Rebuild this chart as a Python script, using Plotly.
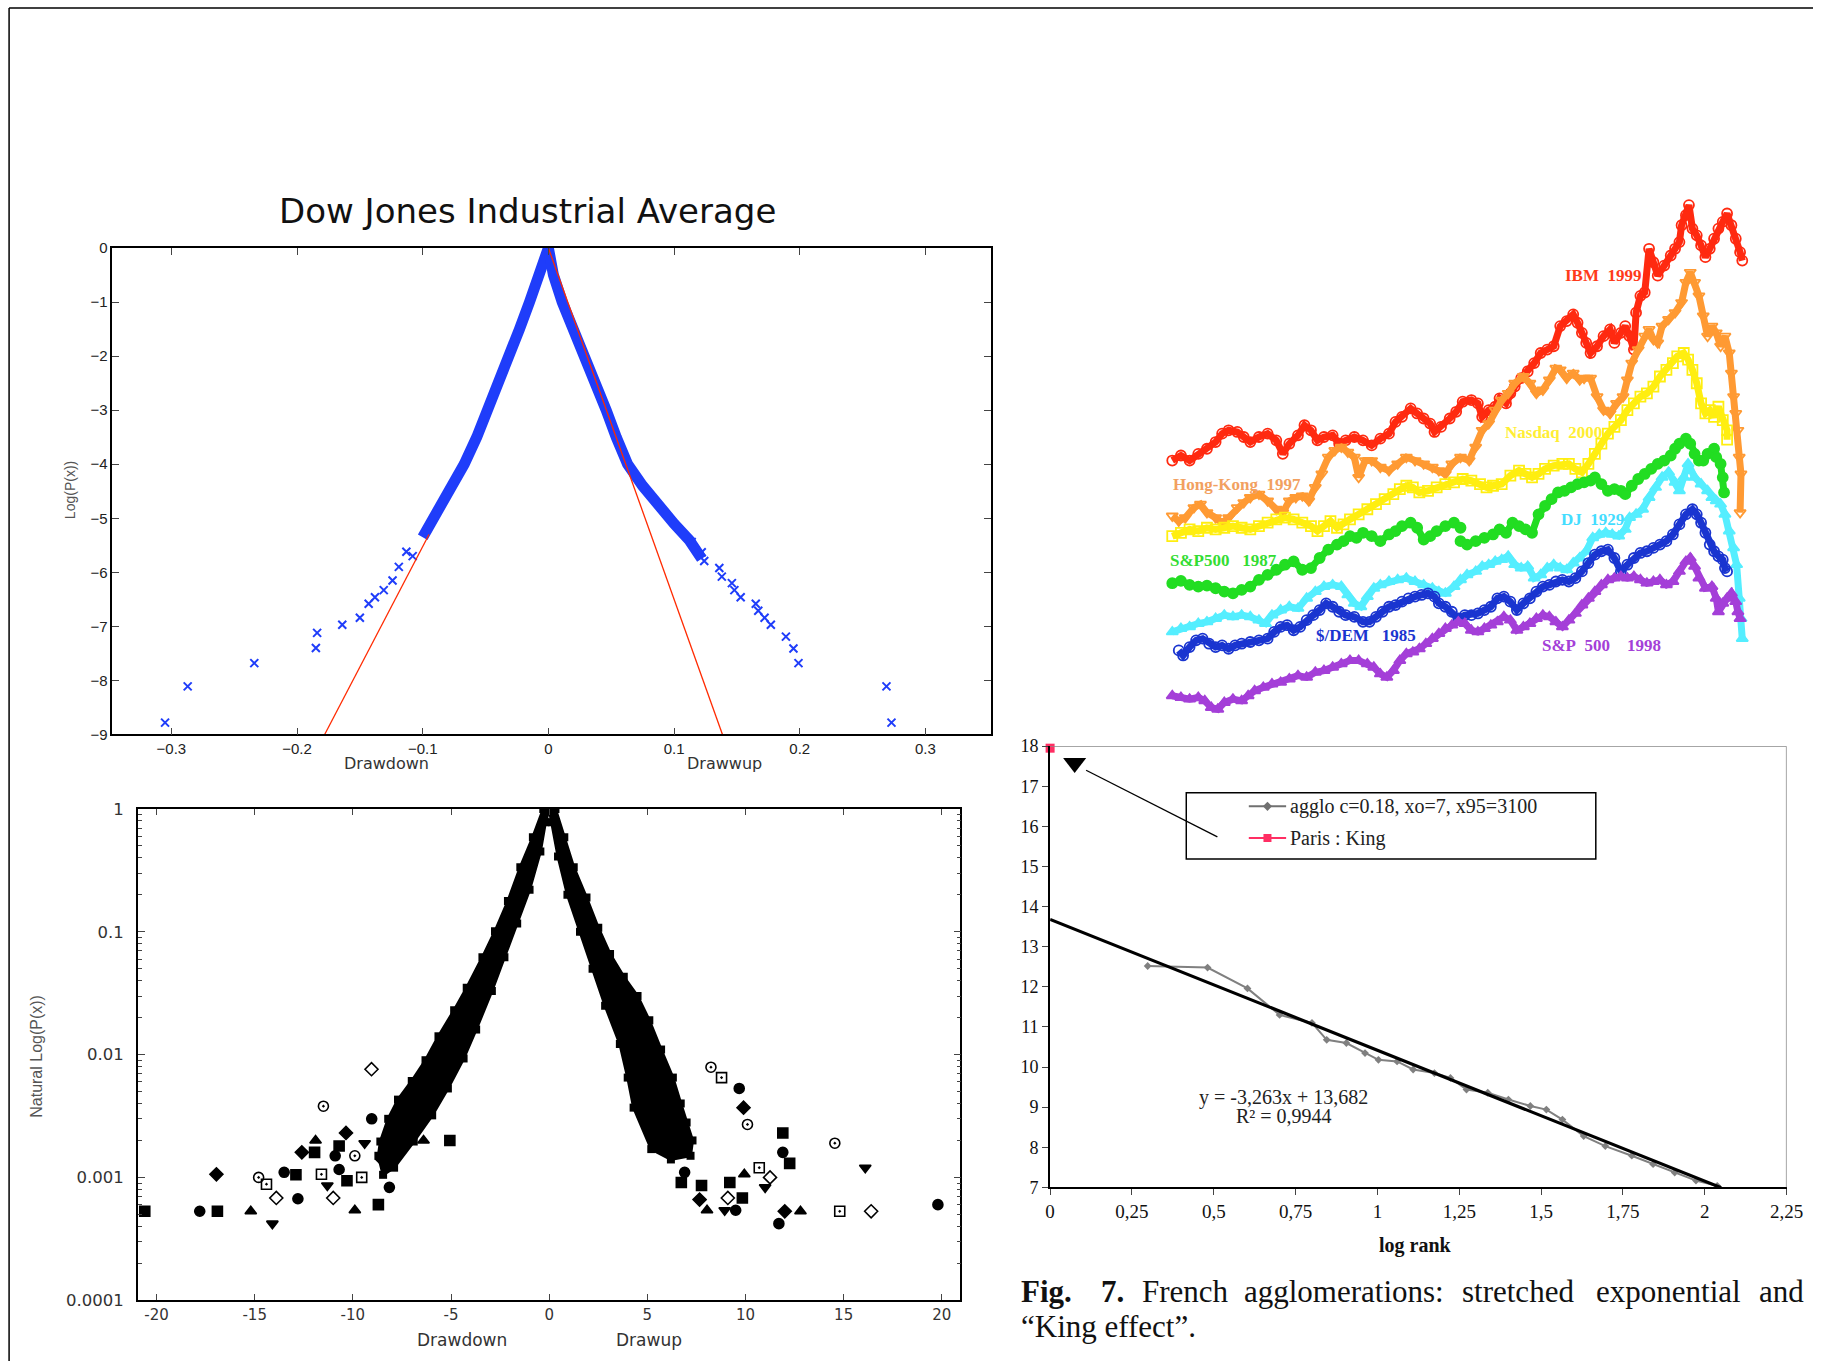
import plotly.graph_objects as go

W, H = 1830, 1371

# ---------------- Panel 1: Dow Jones Industrial Average ----------------
dj_left_x = [0, -0.004, -0.009, -0.015, -0.023, -0.031, -0.040, -0.048, -0.057, -0.067, -0.079, -0.091, -0.100]
dj_left_y = [0, -0.3, -0.6, -1.0, -1.5, -2.0, -2.5, -3.0, -3.5, -4.0, -4.5, -5.0, -5.35]
dj_right_x = [0, 0.004, 0.011, 0.020, 0.030, 0.038, 0.046, 0.054, 0.063, 0.075, 0.088, 0.100, 0.112, 0.122]
dj_right_y = [0, -0.5, -1.0, -1.5, -2.0, -2.5, -3.0, -3.5, -4.0, -4.4, -4.8, -5.1, -5.4, -5.75]
dj_tail_x = [-0.108, -0.113, -0.119, -0.124, -0.131, -0.138, -0.143, -0.150, -0.164, -0.184, -0.185, -0.234, -0.287, -0.305,
             0.114, 0.122, 0.124, 0.136, 0.138, 0.146, 0.148, 0.153, 0.165, 0.167, 0.172, 0.177, 0.189, 0.195, 0.199, 0.269, 0.273]
dj_tail_y = [-5.70, -5.62, -5.90, -6.15, -6.33, -6.46, -6.58, -6.84, -6.97, -7.12, -7.40, -7.68, -8.11, -8.78,
             -5.44, -5.63, -5.79, -5.92, -6.08, -6.20, -6.33, -6.46, -6.58, -6.71, -6.84, -6.97, -7.19, -7.41, -7.68, -8.11, -8.78]
dj_fit_left_x = [-0.095, -0.178]
dj_fit_left_y = [-5.30, -9.0]
dj_fit_right_x = [0.0, 0.1385]
dj_fit_right_y = [0.0, -9.0]
p1_xticks = [-0.3, -0.2, -0.1, 0, 0.1, 0.2, 0.3]
p1_xlabels = ["\u22120.3", "\u22120.2", "\u22120.1", "0", "0.1", "0.2", "0.3"]
p1_yticks = [0, -1, -2, -3, -4, -5, -6, -7, -8, -9]
p1_ylabels = ["0", "\u22121", "\u22122", "\u22123", "\u22124", "\u22125", "\u22126", "\u22127", "\u22128", "\u22129"]

# ---------------- Panel 2: normalised drawdowns (log scale) ----------------
band_left_x = [-0.3, -0.83, -1.47, -2.1, -2.76, -3.4, -4.2, -4.84, -5.64, -6.3, -7.0, -7.7, -8.2, -8.6, -8.7, -8.46,
               -7.9, -6.9, -5.96, -5.16, -4.36, -3.72, -2.92, -2.28, -1.63, -1.0, -0.45, -0.19, 0.0]
band_left_y = [1, 0.59, 0.336, 0.178, 0.101, 0.062, 0.035, 0.023, 0.0141, 0.0090, 0.0061, 0.0043, 0.0030, 0.00196, 0.0015, 0.00105,
               0.0012, 0.00196, 0.0032, 0.0053, 0.0093, 0.016, 0.033, 0.062, 0.117, 0.22, 0.45, 0.78, 1]
band_right_x = [0.32, 0.77, 1.25, 1.9, 2.5, 3.1, 3.8, 4.5, 5.1, 5.7, 6.3, 6.7, 7.0, 7.3, 7.2,
                6.2, 5.2, 4.3, 4.0, 3.6, 2.85, 2.21, 1.57, 0.93, 0.45, 0.13, 0.0]
band_right_y = [1, 0.59, 0.336, 0.19, 0.108, 0.066, 0.043, 0.030, 0.0190, 0.0110, 0.0065, 0.0040, 0.0028, 0.0020, 0.0015,
                0.0014, 0.0017, 0.0037, 0.0065, 0.0122, 0.025, 0.05, 0.10, 0.2, 0.41, 0.78, 1]
p2_left_x = [-20.6, -17.8, -16.95, -16.9, -15.2, -14.8, -14.4, -14.1, -13.9, -13.5, -12.9, -12.8, -12.6, -11.95, -11.9,
             -11.5, -11.6, -11.3, -11.0, -10.9, -10.7, -10.7, -10.35, -10.3, -9.9, -9.9, -9.55, -9.4, -9.05, -9.04,
             -8.7, -8.14, -8.5, -5.06, -6.4]
p2_left_y = [0.00053, 0.00053, 0.00106, 0.00053, 0.00053, 0.0010, 0.00088, 0.00042, 0.00068, 0.0011, 0.00105, 0.00067,
             0.0016, 0.0016, 0.0020, 0.0038, 0.00106, 0.00086, 0.00068, 0.0015, 0.0018, 0.00116, 0.0023, 0.00094,
             0.00054, 0.0015, 0.0010, 0.0019, 0.0076, 0.0030, 0.0006, 0.00083, 0.0014, 0.0020, 0.0020]
p2_right_x = [6.73, 6.9, 7.66, 7.76, 8.04, 8.24, 8.78, 8.94, 9.1, 9.5, 9.2, 9.68, 9.9, 9.84, 9.94, 10.1, 10.7, 11.0,
              11.25, 11.7, 11.9, 11.9, 12.0, 12.25, 12.8, 14.55, 14.8, 16.1, 16.4, 19.8]
p2_right_y = [0.00091, 0.0011, 0.00066, 0.00086, 0.00054, 0.0079, 0.0065, 0.00054, 0.00068, 0.00054, 0.00091, 0.0053,
              0.0037, 0.00068, 0.00106, 0.0027, 0.0012, 0.00083, 0.0010, 0.00042, 0.0023, 0.0016, 0.00053, 0.0013,
              0.00053, 0.0019, 0.00053, 0.0012, 0.00053, 0.0006]
p2_xticks = [-20, -15, -10, -5, 0, 5, 10, 15, 20]
p2_xlabels = ["-20", "-15", "-10", "-5", "0", "5", "10", "15", "20"]
p2_yticks = [0.0001, 0.001, 0.01, 0.1, 1]
p2_ylabels = ["0.0001", "0.001", "0.01", "0.1", "1"]

# ---------------- Panel 3: bubbles (relative units) ----------------
ibm = [(50,790),(70,775),(90,790),(110,770),(130,755),(150,735),(165,710),(180,700),(200,705),(215,720),(230,735),(250,720),
       (270,710),(290,730),(305,770),(320,740),(340,715),(355,685),(370,700),(385,730),(400,720),(420,715),(435,740),(450,730),
       (470,720),(490,730),(510,745),(530,725),(550,710),(565,675),(580,660),(600,635),(615,650),(630,665),(645,680),(655,705),
       (670,690),(690,665),(705,645),(720,615),(740,610),(755,620),(765,660),(780,640),(795,630),(805,605),(820,620),(830,590),
       (840,570),(855,545),(870,525),(885,500),(900,470),(915,460),(930,450),(945,390),(960,375),(975,355),(985,380),(995,410),
       (1005,440),(1015,470),(1030,450),(1045,420),(1060,400),(1070,440),(1085,410),(1095,390),(1105,420),(1115,460),(1120,350),
       (1130,300),(1140,290),(1150,160),(1160,200),(1170,240),(1185,210),(1200,180),(1210,160),(1220,140),(1225,90),(1235,60),
       (1242,30),(1250,100),(1260,120),(1270,150),(1280,185),(1290,160),(1300,130),(1310,100),(1320,80),(1330,55),(1340,90),
       (1350,130),(1360,170),(1365,195)]
hongkong = [(50,955),(65,970),(80,960),(100,930),(115,920),(130,945),(150,960),(165,975),(180,960),(200,930),(215,915),(230,900),
            (250,890),(270,910),(290,935),(305,945),(320,910),(335,900),(350,895),(365,910),(380,870),(395,830),(410,780),(425,760),
            (440,750),(455,765),(470,780),(480,840),(495,790),(510,790),(530,810),(550,820),(570,800),(590,780),(610,790),(630,800),
            (650,810),(665,820),(680,830),(695,800),(715,780),(735,790),(750,750),(765,700),(780,680),(795,640),(810,610),(825,590),
            (840,560),(860,540),(875,560),(890,590),(905,580),(920,550),(935,515),(945,520),(960,545),(975,530),(990,550),(1000,545),
            (1015,545),(1030,600),(1045,640),(1060,650),(1075,620),(1090,600),(1100,550),(1110,500),(1125,460),(1140,420),(1150,400),
            (1160,430),(1170,440),(1180,390),(1195,370),(1210,350),(1225,320),(1235,260),(1245,230),(1255,260),(1265,300),(1275,360),
            (1285,420),(1295,390),(1305,410),(1315,450),(1325,420),(1335,470),(1340,530),(1345,600),(1350,650),(1355,700),(1358,780),
            (1362,830),(1360,945)]
nasdaq = [(50,1015),(70,1005),(90,995),(110,1000),(130,990),(150,995),(170,990),(190,985),(210,990),(230,995),(250,985),(270,975),
          (290,965),(310,960),(330,965),(350,975),(370,985),(385,1000),(400,985),(415,970),(430,990),(445,980),(460,965),(480,950),
          (500,935),(520,920),(540,905),(560,890),(575,875),(590,865),(605,870),(620,885),(640,880),(660,870),(680,860),(700,855),
          (720,845),(740,850),(760,860),(775,870),(790,865),(810,860),(830,835),(850,820),(865,830),(880,840),(895,830),(910,815),
          (930,805),(950,800),(965,800),(980,815),(995,825),(1010,800),(1025,770),(1040,740),(1055,710),(1070,690),(1085,670),
          (1100,640),(1115,620),(1130,600),(1145,590),(1160,570),(1175,540),(1190,520),(1205,500),(1215,480),(1230,470),(1240,490),
          (1250,520),(1260,560),(1270,620),(1280,650),(1290,640),(1300,660),(1310,630),(1320,670),(1330,700),(1330,728)]
sp1987 = [(50,1155),(70,1148),(90,1160),(110,1165),(130,1162),(150,1170),(170,1180),(190,1185),(210,1175),(230,1165),(250,1145),
          (270,1130),(290,1115),(310,1100),(330,1090),(350,1115),(370,1110),(390,1080),(410,1055),(430,1040),(445,1030),(460,1015),
          (475,1020),(490,1005),(510,1015),(530,1030),(550,1010),(565,1000),(580,985),(600,975),(615,990),(630,1025),(645,1015),
          (660,1000),(680,985),(700,975),(715,990),(None,None),(715,1030),(730,1040),(750,1030),(770,1020),(790,1010),(805,995),
          (820,1005),(835,975),(850,985),(865,995),(880,1005),(895,950),(910,925),(925,905),(940,885),(955,880),(970,870),(985,860),
          (1000,855),(1015,850),(1025,840),(1040,860),(1055,880),(1070,875),(1085,880),(1095,890),(1110,865),(1125,845),(1140,830),
          (1155,815),(1170,800),(1185,790),(1200,775),(1210,755),(1220,740),(1235,725),(1245,740),(1255,770),(1265,790),(1275,790),
          (1285,770),(1300,755),(1305,780),(1315,800),(1320,840),(1323,885)]
dj1929 = [(50,1300),(70,1290),(90,1285),(110,1275),(130,1270),(150,1260),(170,1250),(190,1255),(210,1250),(230,1255),(250,1265),
          (265,1275),(280,1250),(300,1235),(320,1225),(340,1230),(360,1200),(380,1180),(400,1165),(420,1160),(440,1165),(455,1190),
          (470,1215),(485,1225),(500,1195),(515,1170),(530,1160),(550,1150),(570,1145),(590,1140),(610,1150),(630,1160),(650,1170),
          (665,1180),(680,1185),(700,1165),(715,1145),(730,1130),(750,1120),(765,1105),(780,1100),(795,1090),(810,1085),(825,1075),
          (840,1100),(855,1110),(870,1105),(885,1140),(900,1130),(915,1110),(930,1100),(945,1110),(960,1115),(975,1095),(990,1080),
          (1005,1060),(1020,1020),(1035,1010),(1050,1005),(1065,1010),(1080,1015),(1095,995),(1105,960),(1120,950),(1135,935),
          (1150,900),(1165,870),(1180,840),(1195,825),(1210,855),(1220,880),(1230,840),(1240,800),(1255,840),(1270,860),(1285,880),
          (1295,900),(1305,910),(1315,920),(1325,950),(1335,1000),(1345,1050),(1352,1100),(1358,1200),(1362,1260),(1365,1320)]
usd_dem = [(65,1355),(75,1370),(90,1345),(105,1325),(120,1320),(135,1335),(150,1345),(165,1340),(180,1350),(195,1340),(210,1335),
           (230,1330),(250,1325),(270,1320),(285,1300),(300,1285),(315,1280),(330,1295),(345,1285),(360,1265),(375,1250),(390,1235),
           (405,1215),(420,1225),(435,1240),(450,1250),(470,1255),(490,1270),(505,1270),(520,1255),(535,1240),(550,1225),(565,1220),
           (580,1210),(595,1200),(610,1195),(625,1190),(640,1185),(655,1195),(665,1215),(680,1225),(695,1240),(710,1260),(725,1250),
           (740,1250),(755,1245),(770,1235),(785,1225),(800,1200),(815,1195),(830,1210),(845,1235),(860,1215),(875,1200),(890,1180),
           (905,1165),(920,1160),(935,1150),(950,1145),(965,1150),(980,1140),(995,1120),(1010,1095),(1025,1070),(1040,1060),
           (1055,1055),(1070,1080),(1085,1120),(1100,1100),(1115,1080),(1130,1065),(1145,1060),(1160,1050),(1175,1040),(1190,1030),
           (1205,1010),(1220,980),(1235,950),(1250,935),(1260,950),(1270,975),(1280,1005),(1290,1040),(1300,1060),(1310,1075),
           (1320,1085),(1325,1110),(1330,1120)]
sp1998 = [(50,1490),(70,1495),(90,1500),(110,1495),(125,1505),(140,1525),(155,1530),(170,1510),(190,1500),(210,1505),(225,1490),
          (240,1475),(260,1465),(280,1455),(300,1450),(320,1440),(340,1430),(360,1435),(380,1420),(400,1415),(420,1405),(440,1395),
          (460,1385),(480,1385),(500,1395),(515,1405),(530,1425),(545,1435),(560,1415),(575,1385),(590,1365),(605,1360),(620,1350),
          (635,1335),(650,1320),(665,1305),(680,1290),(695,1280),(710,1270),(725,1275),(740,1295),(755,1300),(770,1290),(785,1280),
          (800,1270),(815,1255),(830,1265),(845,1295),(860,1285),(875,1275),(890,1260),(905,1250),(920,1255),(935,1270),(950,1285),
          (965,1265),(980,1245),(995,1220),(1010,1200),(1025,1180),(1040,1160),(1055,1145),(1070,1140),(1085,1135),(1100,1140),
          (1115,1135),(1130,1145),(1145,1155),(1160,1150),(1175,1145),(1190,1160),(1205,1150),(1220,1120),(1235,1090),(1245,1080),
          (1255,1105),(1265,1140),(1280,1170),(1295,1165),(1305,1200),(1310,1240),(1320,1215),(1330,1200),(1340,1185),(1350,1210),
          (1355,1240),(1360,1260)]
bubble_names = ["IBM\u00a0\u00a01999", "Hong-Kong\u00a0\u00a01997", "Nasdaq\u00a0\u00a02000", "S&P500\u00a0\u00a0\u00a01987",
                "DJ\u00a0\u00a01929", "$/DEM\u00a0\u00a0\u00a01985", "S&P\u00a0\u00a0500\u00a0\u00a0\u00a0\u00a01998"]
bubble_label_x = [1045, 200, 930, 168, 1020, 497, 1040]
bubble_label_y = [240, 862, 708, 1088, 965, 1312, 1340]

# ---------------- Panel 4: French agglomerations ----------------
agglo_x = [0.298, 0.481, 0.603, 0.701, 0.80, 0.845, 0.905, 0.962, 1.003, 1.06, 1.109, 1.174, 1.223, 1.272, 1.337, 1.40,
           1.467, 1.516, 1.565, 1.63, 1.696, 1.777, 1.842, 1.908, 1.973, 2.038]
agglo_y = [12.52, 12.48, 11.96, 11.30, 11.10, 10.68, 10.60, 10.35, 10.18, 10.14, 9.94, 9.85, 9.73, 9.44, 9.36, 9.19,
           9.03, 8.94, 8.69, 8.28, 8.03, 7.79, 7.58, 7.37, 7.17, 7.04]
paris_x = [0.0]
paris_y = [17.95]
fit_slope, fit_intercept = -3.263, 13.682
fit_x = [0.0, 2.05]
p4_xticks = [0, 0.25, 0.5, 0.75, 1, 1.25, 1.5, 1.75, 2, 2.25]
p4_xlabels = ["0", "0,25", "0,5", "0,75", "1", "1,25", "1,5", "1,75", "2", "2,25"]
p4_yticks = list(range(7, 19))

# ======================================================================
# pixel -> paper helpers (with a small correction for the capture scale)
SX, OX = 0.991, 0.9
SY, OY = 0.988, 6.5

def px(x):
    return ((x - OX) / SX) / W

def py(y):
    return 1 - ((y - OY) / SY) / H

BLUE = "#1f3dfa"
fig = go.Figure()

# Panel 1
for lx, ly in ((dj_left_x, dj_left_y), (dj_right_x, dj_right_y)):
    fig.add_trace(go.Scatter(x=lx, y=ly, mode="lines", line=dict(color=BLUE, width=11),
                             xaxis="x", yaxis="y"))
fig.add_trace(go.Scatter(x=dj_tail_x, y=dj_tail_y, mode="markers",
                         marker=dict(symbol="x-thin", size=8, line=dict(color=BLUE, width=2)),
                         xaxis="x", yaxis="y"))
fig.add_trace(go.Scatter(x=dj_fit_left_x, y=dj_fit_left_y, mode="lines", line=dict(color="#ff2a00", width=1.3),
                         xaxis="x", yaxis="y"))
fig.add_trace(go.Scatter(x=dj_fit_right_x, y=dj_fit_right_y, mode="lines", line=dict(color="#ff2a00", width=1.3),
                         xaxis="x", yaxis="y"))

# Panel 2
for bx, by in ((band_left_x, band_left_y), (band_right_x, band_right_y)):
    fig.add_trace(go.Scatter(x=bx, y=by, mode="lines+markers", fill="toself", fillcolor="black",
                             line=dict(color="black", width=3),
                             marker=dict(symbol="square", size=8, color="black"),
                             xaxis="x2", yaxis="y2"))
syms = ["square-dot", "circle", "diamond", "square", "triangle-up", "circle-open-dot", "square-open-dot",
        "triangle-down", "diamond-open", "circle-dot"]
for ox, oy in ((p2_left_x, p2_left_y), (p2_right_x, p2_right_y)):
    fig.add_trace(go.Scatter(x=ox, y=oy, mode="markers",
                             marker=dict(symbol=[syms[i % len(syms)] for i in range(len(ox))], size=10,
                                         color="black", line=dict(color="black", width=1.6)),
                             cliponaxis=False, xaxis="x2", yaxis="y2"))

# Panel 3
bubble_series = [ibm, hongkong, nasdaq, sp1987, dj1929, usd_dem, sp1998]
bubble_colors = ["#ff2a10", "#ff9a33", "#ffee10", "#22dd22", "#55eeff", "#1a35d0", "#a43fd8"]
label_colors = ["#ff3a1a", "#f2a060", "#ffee33", "#33dd33", "#44ddff", "#1a35d0", "#a43fd8"]
bubble_symbols = ["circle-open", "triangle-down-open", "square-open", "circle", "triangle-up", "circle-open", "triangle-up"]
for series, col, sym in zip(bubble_series, bubble_colors, bubble_symbols):
    sx = [p[0] for p in series]
    sy = [p[1] for p in series]
    fig.add_trace(go.Scatter(x=sx, y=sy, mode="lines+markers", line=dict(color=col, width=7),
                             marker=dict(symbol=sym, size=10, color=col, line=dict(color=col, width=1.8)),
                             xaxis="x3", yaxis="y3"))

# Panel 4
fig.add_trace(go.Scatter(x=agglo_x, y=agglo_y, mode="lines+markers", line=dict(color="#808080", width=2),
                         marker=dict(symbol="diamond", size=6, color="#808080"), xaxis="x4", yaxis="y4"))
fig.add_trace(go.Scatter(x=fit_x, y=[fit_slope * v + fit_intercept for v in fit_x], mode="lines",
                         line=dict(color="black", width=3.2), xaxis="x4", yaxis="y4"))
fig.add_trace(go.Scatter(x=paris_x, y=paris_y, mode="markers", cliponaxis=False,
                         marker=dict(symbol="square", size=9, color="#ff2e63"), xaxis="x4", yaxis="y4"))
fig.add_trace(go.Scatter(x=[0.511, 0.11], y=[15.74, 17.40], mode="lines", line=dict(color="black", width=1.3),
                         xaxis="x4", yaxis="y4"))
fig.add_trace(go.Scatter(x=[0.075], y=[17.58], mode="markers", cliponaxis=False,
                         marker=dict(symbol="triangle-down", size=20, color="black"), xaxis="x4", yaxis="y4"))
fig.add_trace(go.Scatter(x=[0.607, 0.721], y=[16.50, 16.50], mode="lines", line=dict(color="#707070", width=2),
                         xaxis="x4", yaxis="y4"))
fig.add_trace(go.Scatter(x=[0.664], y=[16.50], mode="markers", marker=dict(symbol="diamond", size=7, color="#707070"),
                         xaxis="x4", yaxis="y4"))
fig.add_trace(go.Scatter(x=[0.607, 0.721], y=[15.71, 15.71], mode="lines", line=dict(color="#ff2e63", width=2),
                         xaxis="x4", yaxis="y4"))
fig.add_trace(go.Scatter(x=[0.664], y=[15.71], mode="markers", marker=dict(symbol="square", size=8, color="#ff2e63"),
                         xaxis="x4", yaxis="y4"))

sans = "Liberation Sans, Arial, sans-serif"
dsans = "DejaVu Sans, sans-serif"
serif = "Liberation Serif, Times New Roman, serif"

common = dict(showgrid=False, zeroline=False, showline=True, linecolor="black")

# panel 3 x range so that the right edge of the page keeps the intended scale
p3_scale = 680.0 / 1564.0
p3_right = (OX + SX * W - 1150) / p3_scale

fig.update_layout(
    width=W, height=H, margin=dict(l=0, r=0, t=0, b=0),
    paper_bgcolor="white", plot_bgcolor="rgba(0,0,0,0)", showlegend=False,
    xaxis=dict(domain=[px(108.5), px(989.7)], range=[-0.347, 0.352], anchor="y", tickvals=p1_xticks,
               ticktext=p1_xlabels, ticks="inside", ticklen=7, mirror="ticks", linewidth=1.5,
               tickfont=dict(family=sans, size=15, color="#222"), **common),
    yaxis=dict(domain=[py(732.9), py(245.1)], range=[-9, 0], anchor="x", tickvals=p1_yticks,
               ticktext=p1_ylabels, ticks="inside", ticklen=7, mirror="ticks", linewidth=1.5,
               tickfont=dict(family=sans, size=15, color="#222"), **common),
    xaxis2=dict(domain=[px(134.2), px(959.3)], range=[-20.95, 20.95], anchor="y2", tickvals=p2_xticks,
                ticktext=p2_xlabels, ticks="inside", ticklen=6, mirror="ticks", linewidth=1.5,
                tickfont=dict(family=dsans, size=15, color="#333"), **common),
    yaxis2=dict(domain=[py(1300.1), py(807.6)], type="log", range=[-4, 0], anchor="x2", tickvals=p2_yticks,
                ticktext=p2_ylabels, ticks="inside", ticklen=7, mirror="ticks", linewidth=1.5,
                ticklabelstandoff=9,
                minor=dict(ticks="inside", ticklen=4, tickvals=[v * m for v in [0.0001, 0.001, 0.01, 0.1] for m in range(2, 10)]),
                tickfont=dict(family=dsans, size=16.5, color="#333"), **common),
    xaxis3=dict(domain=[px(1150), 1.0], range=[0, p3_right], visible=False, anchor="y3"),
    yaxis3=dict(domain=[py(727.8), py(192.0)], range=[1590, 0], visible=False, anchor="x3"),
    xaxis4=dict(domain=[px(1049.2), px(1788)], range=[0, 2.25], anchor="y4", tickvals=p4_xticks, ticktext=p4_xlabels,
                ticks="outside", ticklen=6, linewidth=2, tickfont=dict(family=serif, size=19, color="#111"), **common),
    yaxis4=dict(domain=[py(1187), py(744.6)], range=[7, 18], anchor="x4", tickvals=p4_yticks,
                ticks="outside", ticklen=6, linewidth=2, tickfont=dict(family=serif, size=18, color="#111"), **common),
)

shapes = [
    dict(type="line", xref="paper", yref="paper", x0=px(5), x1=1.0, y0=py(4.5), y1=py(4.5), line=dict(color="black", width=1.5)),
    dict(type="line", xref="paper", yref="paper", x0=px(5), x1=px(5), y0=py(4.5), y1=0, line=dict(color="black", width=1.5)),
    dict(type="line", xref="x4", yref="y4", x0=0, x1=2.25, y0=18, y1=18, line=dict(color="#888", width=1.5)),
    dict(type="line", xref="x4", yref="y4", x0=2.25, x1=2.25, y0=7, y1=18, line=dict(color="#888", width=1.5)),
    dict(type="rect", xref="x4", yref="y4", x0=0.416, x1=1.667, y0=15.19, y1=16.84, line=dict(color="black", width=1.5)),
]

anns = []
def ann(x, y, text, size, family=sans, color="black", xanchor="center", angle=0, xref="paper", yref="paper"):
    ax = px(x) if xref == "paper" else x
    ay = py(y) if yref == "paper" else y
    anns.append(dict(x=ax, y=ay, xref=xref, yref=yref, text=text, showarrow=False, textangle=angle,
                     xanchor=xanchor, yanchor="middle", font=dict(family=family, size=size, color=color)))

ann(525, 208, "Dow Jones Industrial Average", 34, family=dsans, color="#111")
ann(66, 488, "Log(P(x))", 14, color="#555", angle=-90)
ann(384, 762, "Drawdown", 16, family=dsans, color="#333")
ann(723, 762, "Drawwup", 16, family=dsans, color="#333")
ann(33, 1056, "Natural Log(P(x))", 16, color="#555", angle=-90)
ann(459, 1340, "Drawdown", 17, family=dsans, color="#333")
ann(647, 1340, "Drawup", 17, family=dsans, color="#333")

for name, lx, ly, col in zip(bubble_names, bubble_label_x, bubble_label_y, label_colors):
    ann(lx, ly, "<b>" + name + "</b>", 17, family=serif, color=col, xref="x3", yref="y3")

ann(0.727, 16.50, "agglo c=0.18, xo=7, x95=3100", 20, family=serif, color="#222", xanchor="left", xref="x4", yref="y4")
ann(0.727, 15.71, "Paris : King", 20, family=serif, color="#222", xanchor="left", xref="x4", yref="y4")
ann(0.714, 9.24, "y = -3,263x + 13,682", 20, family=serif, color="#222", xref="x4", yref="y4")
ann(0.714, 8.77, "R\u00b2 = 0,9944", 20, family=serif, color="#222", xref="x4", yref="y4")
ann(1415.6, 1245, "<b>log rank</b>", 20, family=serif, color="#111")

cap_words = ["<b>Fig.</b>", "<b>7.</b>", "French", "agglomerations:", "stretched", "exponential", "and"]
cap_x = [1018, 1098, 1139, 1242, 1460, 1595, 1758]
for wd, wx in zip(cap_words, cap_x):
    ann(wx, 1291, wd, 31, family=serif, color="#111", xanchor="left")
ann(1018, 1326, "\u201cKing effect\u201d.", 31, family=serif, color="#111", xanchor="left")

fig.update_layout(shapes=shapes, annotations=anns)
fig.write_html("out.html")
